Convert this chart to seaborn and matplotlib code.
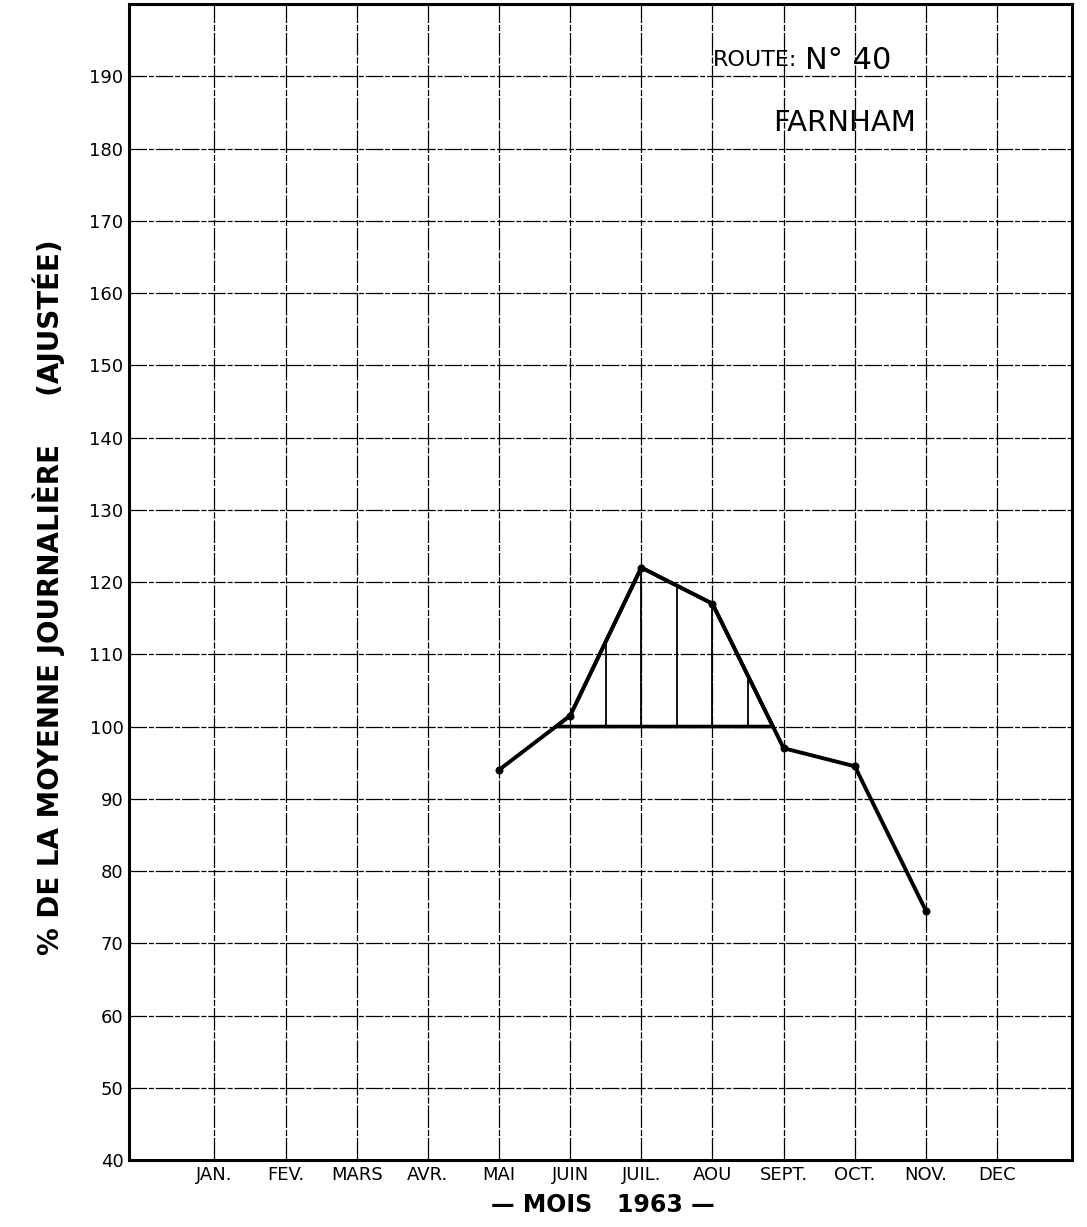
import numpy as np
import pandas as pd
import matplotlib
matplotlib.use("Agg")
import matplotlib.pyplot as plt
import seaborn as sns

# data
months = ['JAN.', 'FEV.', 'MARS', 'AVR.', 'MAI', 'JUIN', 'JUIL.', 'AOU',
          'SEPT.', 'OCT.', 'NOV.', 'DEC']
obs_months = ['MAI', 'JUIN', 'JUIL.', 'AOU', 'SEPT.', 'OCT.', 'NOV.']
pct = [94, 101.5, 122, 117, 97, 94.5, 74.5]
yticks = list(range(40, 200, 10))
hatch_x = [6.5, 7, 7.5, 8, 8.5]

df = pd.DataFrame({'mois': [months.index(m) + 1 for m in obs_months],
                   'pct': pct})

sns.set_style("white")
plt.rcParams['font.family'] = ['DejaVu Sans']
plt.rcParams['text.color'] = 'black'
plt.rcParams['xtick.color'] = 'black'
plt.rcParams['ytick.color'] = 'black'

fig = plt.figure(figsize=(10.87, 12.27), dpi=100)
ax = fig.add_axes([0.1187, 0.0546, 0.8673, 0.9421])

# grid
for y in yticks[1:]:
    ax.axhline(y, color='black', lw=0.9, ls=(0, (14, 1.5, 4, 1.5)), zorder=1)
for i in range(1, 13):
    ax.axvline(i, color='black', lw=0.9, ls=(0, (18, 1.5, 5, 1.5)), zorder=1)

sns.lineplot(data=df, x='mois', y='pct', ax=ax, color='black', lw=2.8,
             marker='o', markersize=5, markeredgecolor='black', zorder=4)

# shaded part above 100 (outline + vertical hatching)
xs = df['mois'].to_numpy(dtype=float)
ys = df['pct'].to_numpy(dtype=float)
ax.fill_between(xs, 100, ys, where=ys >= 100, interpolate=True,
                facecolor='none', edgecolor='black', lw=2.6, zorder=3)
ax.vlines(hatch_x, 100, np.interp(hatch_x, xs, ys), color='black',
          lw=1.3, zorder=3)

ax.set_xlim(-0.2, 13.05)
ax.set_ylim(40, 200)
ax.set_xticks(range(1, 13))
ax.set_xticklabels(months, fontsize=13)
ax.set_yticks(yticks)
ax.set_yticklabels([str(v) for v in yticks], fontsize=13)
ax.tick_params(length=0, pad=4)
for s in ax.spines.values():
    s.set_linewidth(2.2)
    s.set_color('black')
ax.set_xlabel('')
ax.set_ylabel('')

fig.text(0.555, 0.018, '— MOIS   1963 —', ha='center', va='center',
         fontsize=17, fontweight='bold')
fig.text(0.045, 0.513, '% DE LA MOYENNE JOURNALIÈRE     (AJUSTÉE)',
         rotation=90, ha='center', va='center', fontsize=20,
         fontweight='bold')

ax.text(8.0, 192.2, 'ROUTE:', fontsize=16, ha='left', va='center')
ax.text(9.3, 192.2, 'N° 40', fontsize=22, ha='left', va='center')
ax.text(8.85, 183.5, 'FARNHAM', fontsize=21, ha='left', va='center')

fig.savefig('out.png', dpi=100)
